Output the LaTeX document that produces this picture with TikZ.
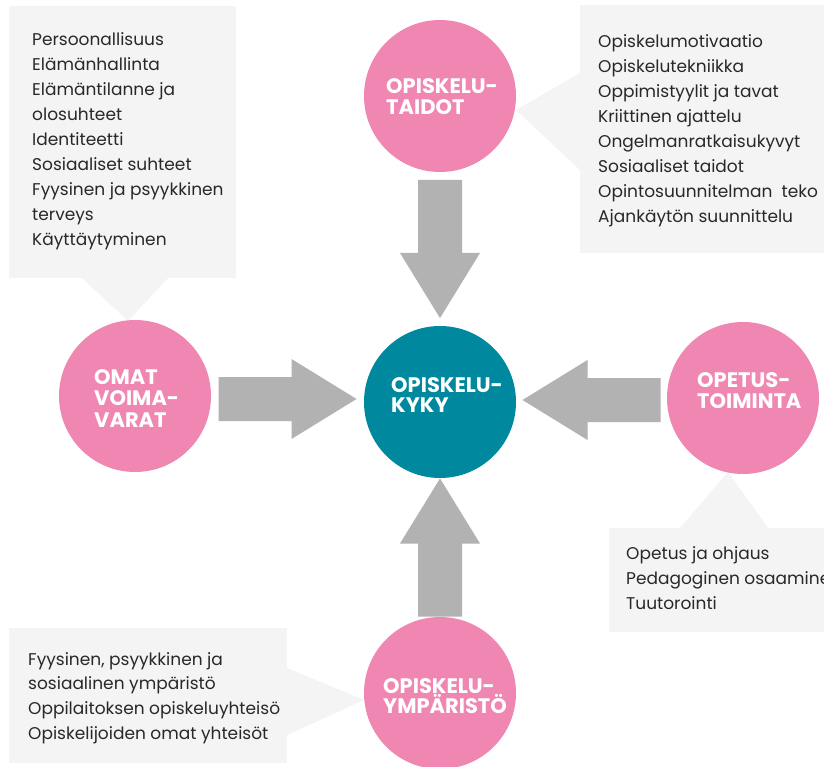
\documentclass[tikz,border=0pt]{standalone}
\usepackage{fontspec}
\setmainfont{Poppins}
\usetikzlibrary{calc}
\definecolor{pinkc}{RGB}{239,135,178}
\definecolor{tealc}{RGB}{0,137,158}
\definecolor{arrowc}{RGB}{178,178,178}
\definecolor{boxc}{RGB}{244,244,244}
\definecolor{textc}{RGB}{40,40,40}
\newcommand\mylines[2]{\vtop{\baselineskip=#1\relax\lineskiplimit=-100pt\relax #2}}
\begin{document}
\begin{tikzpicture}[x=1pt,y=-1pt,
  circ/.style={circle, fill=#1, minimum size=152pt, inner sep=0pt},
  lab/.style={anchor=base west, inner sep=0pt, text=white, font=\bfseries\fontsize{21}{21}\selectfont},
  body/.style={anchor=base west, inner sep=0pt, text=textc, font=\fontsize{17}{25}\selectfont},
  callout/.style={fill=boxc},
  blockarr/.pic={\fill[arrowc] (-69,-22) -- (4,-22) -- (4,-40) -- (69,0) -- (4,40) -- (4,22) -- (-69,22) -- cycle;}
]
\fill[white] (0,0) rectangle (824,767);
\useasboundingbox (0,0) rectangle (824,767);

% callouts
\fill[callout] (9,6) rectangle (236,278);
\fill[callout] (82,278) -- (168,278) -- (128,321) -- cycle;
\fill[callout] (580,5) rectangle (830,253);
\fill[callout] (580,73) -- (580,170) -- (516,110) -- cycle;
\fill[callout] (609,528) rectangle (830,632);
\fill[callout] (680,528) -- (768,528) -- (728,472) -- cycle;
\fill[callout] (9,628) rectangle (287,763);
\fill[callout] (287,668) -- (287,735) -- (364,700) -- cycle;

% circles
\node[circ=pinkc] (taidot) at (440,96) {};
\node[circ=tealc] (kyky) at (440,402) {};
\node[circ=pinkc] (omat) at (135,396) {};
\node[circ=pinkc] (opetus) at (743,398) {};
\node[circ=pinkc] (ymp) at (440,693) {};

% block arrows
\pic at ($(omat.east)!0.5!(kyky.west)$) {blockarr};
\pic[rotate=180] at ($(opetus.west)!0.5!(kyky.east)$) {blockarr};
\pic[rotate=-90] at ($(taidot.south)!0.5!(kyky.north)$) {blockarr};
\pic[rotate=90] at ($(ymp.north)!0.5!(kyky.south)$) {blockarr};

% circle labels
\node[lab] (ltaidot) at (386,94) {\mylines{21pt}{\hbox{OPISKELU-}\hbox{TAIDOT}}};
\node[lab] (lkyky) at (391,392) {\mylines{20pt}{\hbox{OPISKELU-}\hbox{KYKY}}};
\node[lab] (lomat) at (94,384) {\mylines{21.5pt}{\hbox{OMAT}\hbox{VOIMA-}\hbox{VARAT}}};
\node[lab] (lopetus) at (697,387) {\mylines{21pt}{\hbox{OPETUS-}\hbox{TOIMINTA}}};
\node[lab] (lymp) at (383,693) {\mylines{20pt}{\hbox{OPISKELU-}\hbox{YMPÄRISTÖ}}};

% callout texts
\node[body] (tomat) at (32,46) {\mylines{25pt}{%
  \hbox{Persoonallisuus}\hbox{Elämänhallinta}\hbox{Elämäntilanne ja}\hbox{olosuhteet}%
  \hbox{Identiteetti}\hbox{Sosiaaliset suhteet}\hbox{Fyysinen ja psyykkinen}\hbox{terveys}%
  \hbox{Käyttäytyminen}}};
\node[body] (ttaidot) at (598,48) {\mylines{25pt}{%
  \hbox{Opiskelumotivaatio}\hbox{Opiskelutekniikka}\hbox{Oppimistyylit ja tavat}%
  \hbox{Kriittinen ajattelu}\hbox{Ongelmanratkaisukyvyt}\hbox{Sosiaaliset taidot}%
  \hbox{Opintosuunnitelman\ \ teko}\hbox{Ajankäytön suunnittelu}}};
\node[body] (topetus) at (626,559) {\mylines{25pt}{%
  \hbox{Opetus ja ohjaus}\hbox{Pedagoginen osaaminen}\hbox{Tuutorointi}}};
\node[body] (tymp) at (28,665) {\mylines{24.7pt}{%
  \hbox{Fyysinen, psyykkinen ja}\hbox{sosiaalinen ympäristö}%
  \hbox{Oppilaitoksen opiskeluyhteisö}\hbox{Opiskelijoiden omat yhteisöt}}};
\end{tikzpicture}
\end{document}
